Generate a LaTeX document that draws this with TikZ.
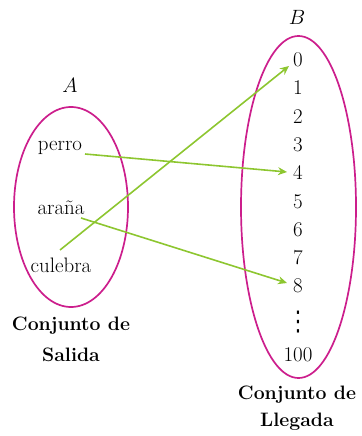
\documentclass[tikz,border=0pt]{standalone}
\usepackage{fontspec}
\usepackage{graphicx}
\newfontfamily\symfont{DejaVu Sans}
\usetikzlibrary{arrows.meta}
\definecolor{ellc}{RGB}{204,30,140}
\definecolor{arrc}{RGB}{141,198,48}
\begin{document}
\begin{tikzpicture}[x=1bp,y=-1bp,
  setline/.style={draw=ellc,line width=1.7bp},
  elem/.style={inner sep=0pt,font=\fontsize{21}{24}\selectfont},
  settitle/.style={inner sep=0pt,font=\fontsize{21}{24}\selectfont},
  caption/.style={inner sep=0pt,font=\fontsize{19.5}{22}\selectfont\bfseries},
  mapto/.style={draw=arrc,line width=1.6bp,-{Stealth[length=9bp,width=8bp]}}]
\useasboundingbox (0,0) rectangle (361,436);
% sets
\draw[setline] (71,207) ellipse [x radius=57, y radius=100];
\draw[setline] (298.5,207) ellipse [x radius=57.5, y radius=171];
\node[settitle] (A) at (70,85) {$A$};
\node[settitle] (B) at (297,17) {$B$};
% domain
\node[elem] (perro) at (60,148) {perro};
\node[elem] (arana) at (61,208) {araña};
\node[elem] (culebra) at (61,265) {culebra};
% codomain
\foreach \n/\y in {0/60,1/88,2/117,3/145,4/173,5/202,6/230,7/258,8/286}
  \node[elem] (n\n) at (298,\y) {\n};
\node[elem,font=\fontsize{21}{24}\selectfont\symfont] (dots) at (298,322) {\scalebox{1}[1.3]{⋮}};
\node[elem] (n100) at (298,355) {100};
% captions
\node[caption] (capA1) at (71,326) {Conjunto de};
\node[caption] (capA2) at (71,355) {Salida};
\node[caption] (capB1) at (297,395) {Conjunto de};
\node[caption] (capB2) at (297,422) {Llegada};
% arrows
\coordinate (sp) at (85,154);
\coordinate (sa) at (81,218);
\coordinate (sc) at (60,250);
\coordinate (e0) at (289,66);
\coordinate (e4) at (287,172);
\coordinate (e8) at (287,283);
\draw[mapto] (sp) -- (e4);
\draw[mapto] (sa) -- (e8);
\draw[mapto] (sc) -- (e0);
\end{tikzpicture}
\end{document}
